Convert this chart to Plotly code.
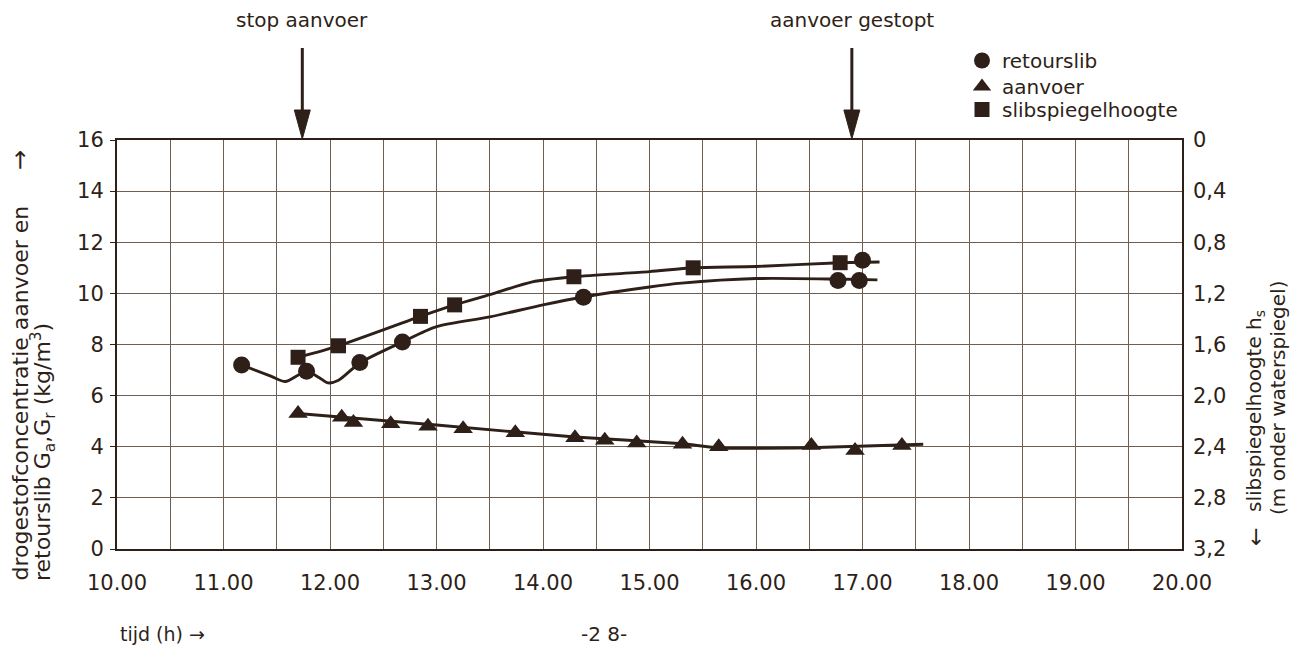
import plotly.graph_objects as go

# ---- measured series -------------------------------------------------------
# retourslib: dry-matter concentration of return sludge (kg/m3)
retour_t = [11.17, 11.78, 12.28, 12.68, 14.38, 16.77, 16.97, 17.00]
retour_g = [7.2, 6.95, 7.3, 8.1, 9.85, 10.5, 10.5, 11.3]

# aanvoer: dry-matter concentration of the feed (kg/m3)
aanvoer_t = [11.70, 12.11, 12.22, 12.57, 12.92, 13.25, 13.74, 14.30,
             14.58, 14.88, 15.31, 15.65, 16.52, 16.93, 17.37]
aanvoer_g = [5.3, 5.15, 4.95, 4.9, 4.8, 4.7, 4.55, 4.35,
             4.25, 4.15, 4.1, 4.0, 4.05, 3.85, 4.05]

# slibspiegelhoogte: sludge blanket depth below water level (m)
slib_t = [11.70, 12.08, 12.85, 13.17, 14.29, 15.41, 16.79]
slib_hs = [1.70, 1.61, 1.38, 1.29, 1.07, 1.00, 0.96]

# ---- hand-fitted trend curves ---------------------------------------------
retour_curve_t = [11.17, 11.45, 11.58, 11.78, 11.90, 11.98, 12.08, 12.28,
                  12.68, 13.0, 13.5, 14.0, 14.38, 15.0, 15.3, 16.0, 16.76, 17.14]
retour_curve_g = [7.2, 6.75, 6.55, 6.95, 6.7, 6.5, 6.6, 7.28,
                  8.1, 8.7, 9.08, 9.55, 9.86, 10.25, 10.4, 10.58, 10.56, 10.53]

slib_curve_t = [11.70, 12.08, 12.85, 13.17, 13.5, 13.9, 14.29, 15.0,
                15.41, 16.0, 16.79, 17.16]
slib_curve_hs = [1.70, 1.61, 1.38, 1.29, 1.21, 1.11, 1.07, 1.03,
                 1.00, 0.99, 0.96, 0.955]

aanvoer_curve_t = [11.70, 13.0, 14.3, 15.31, 15.65, 16.5, 17.57]
aanvoer_curve_g = [5.3, 4.85, 4.38, 4.12, 3.95, 3.96, 4.1]

# ---- axis labelling --------------------------------------------------------
hour_ticks = list(range(10, 21))
hour_labels = [f"{h}.00" for h in hour_ticks]
conc_ticks = list(range(0, 17, 2))
depth_ticks = [0, 0.4, 0.8, 1.2, 1.6, 2.0, 2.4, 2.8, 3.2]
depth_labels = ["0", "0,4", "0,8", "1,2", "1,6", "2,0", "2,4", "2,8", "3,2"]

# events marked with an arrow above the chart
event_t = [11.74, 16.90]
event_text = ["stop aanvoer", "aanvoer gestopt"]

INK = "#2e1f18"
GRID = "#6f5f50"
FONT = "DejaVu Sans"

W, H = 1307, 646
ML, MR, MT, MB = 117, 125, 140, 97
PLOT_H = H - MT - MB


def py(p):
    """Pixel row from the top of the page -> paper y."""
    return (H - MB - p) / PLOT_H


def px(p):
    """Pixel column from the left of the page -> paper x."""
    return (p - ML) / (W - ML - MR)


fig = go.Figure()

line_style = dict(color=INK, width=2.9, shape="spline", smoothing=0.7)
fig.add_trace(go.Scatter(x=retour_curve_t, y=retour_curve_g, mode="lines",
                         line=line_style, showlegend=False, hoverinfo="skip"))
fig.add_trace(go.Scatter(x=slib_curve_t, y=slib_curve_hs, mode="lines",
                         line=line_style, yaxis="y2", showlegend=False,
                         hoverinfo="skip"))
fig.add_trace(go.Scatter(x=aanvoer_curve_t, y=aanvoer_curve_g, mode="lines",
                         line=dict(color=INK, width=2.9, shape="spline",
                                   smoothing=0.4),
                         showlegend=False, hoverinfo="skip"))

# each series gets its own one-item legend so the rows can sit close together
fig.add_trace(go.Scatter(x=retour_t, y=retour_g, mode="markers",
                         name="retourslib", legend="legend",
                         marker=dict(symbol="circle", size=17, color=INK)))
fig.add_trace(go.Scatter(x=aanvoer_t, y=aanvoer_g, mode="markers",
                         name="aanvoer", legend="legend2",
                         marker=dict(symbol="triangle-up", size=17, color=INK)))
fig.add_trace(go.Scatter(x=slib_t, y=slib_hs, mode="markers",
                         name="slibspiegelhoogte", yaxis="y2",
                         legend="legend3",
                         marker=dict(symbol="square", size=15, color=INK)))

annotations = []
shapes = []
for t, txt in zip(event_t, event_text):
    annotations.append(dict(x=t, y=py(20), xref="x", yref="paper",
                            text=txt, showarrow=False,
                            font=dict(size=20, color=INK, family=FONT),
                            xanchor="center", yanchor="middle"))
    shapes.append(dict(type="line", xref="x", yref="paper",
                       x0=t, x1=t, y0=py(48), y1=py(114),
                       line=dict(color=INK, width=3)))
    dx = 0.075
    shapes.append(dict(type="path", xref="x", yref="paper",
                       path=f"M {t - dx},{py(110)} L {t + dx},{py(110)} "
                            f"L {t},{py(139)} Z",
                       fillcolor=INK, line=dict(color=INK, width=1)))

title_font = dict(size=22, color=INK, family=FONT)
side_font = dict(size=20, color=INK, family=FONT)
annotations += [
    dict(x=px(20), y=py(583), xref="paper", yref="paper", textangle=-90,
         text="drogestofconcentratie aanvoer en", showarrow=False,
         xanchor="center", yanchor="bottom", font=title_font),
    dict(x=px(20), y=py(160), xref="paper", yref="paper", textangle=-90,
         text="→", showarrow=False, xanchor="center", yanchor="middle",
         font=dict(size=24, color=INK, family=FONT)),
    dict(x=px(43), y=py(583), xref="paper", yref="paper", textangle=-90,
         text="retourslib G<sub>a</sub>,G<sub>r</sub> (kg/m<sup>3</sup>)",
         showarrow=False, xanchor="center", yanchor="bottom",
         font=title_font),
    dict(x=px(1255), y=py(514), xref="paper", yref="paper", textangle=-90,
         text="slibspiegelhoogte h<sub>s</sub>", showarrow=False,
         xanchor="center", yanchor="bottom", font=side_font),
    dict(x=px(1278), y=py(517), xref="paper", yref="paper", textangle=-90,
         text="(m onder waterspiegel)", showarrow=False,
         xanchor="center", yanchor="bottom", font=side_font),
    dict(x=px(1255), y=py(537), xref="paper", yref="paper", textangle=-90,
         text="←", showarrow=False, xanchor="center", yanchor="middle",
         font=dict(size=22, color=INK, family=FONT)),
    dict(x=px(118), y=py(634), xref="paper", yref="paper",
         text="tijd (h) →", showarrow=False, xanchor="left",
         yanchor="middle", font=dict(size=19, color=INK, family=FONT)),
    dict(x=px(604), y=py(634), xref="paper", yref="paper",
         text="-2 8-", showarrow=False, xanchor="center",
         yanchor="middle", font=dict(size=20, color=INK, family=FONT)),
]

tick_font = dict(size=21, color=INK, family=FONT)
legend_font = dict(size=20, color=INK, family=FONT)


def legend_at(top):
    return dict(x=px(962), y=py(top), xanchor="left", yanchor="top",
                font=legend_font, bgcolor="rgba(0,0,0,0)")


fig.update_layout(
    width=W, height=H, autosize=False,
    margin=dict(l=ML, r=MR, t=MT, b=MB, pad=0),
    paper_bgcolor="white", plot_bgcolor="white",
    font=dict(family=FONT, color=INK),
    xaxis=dict(range=[10, 20], tickvals=hour_ticks, ticktext=hour_labels,
               showgrid=True, gridcolor=GRID, gridwidth=1.1,
               minor=dict(dtick=0.5, showgrid=True, gridcolor=GRID,
                          gridwidth=1.1),
               showline=True, linecolor=INK, linewidth=2, mirror=True,
               zeroline=False, tickfont=tick_font, ticklabelstandoff=14),
    yaxis=dict(range=[0, 16], tickvals=conc_ticks, showgrid=True,
               gridcolor=GRID, gridwidth=1.1, showline=True, linecolor=INK,
               linewidth=2, mirror=True, zeroline=False, ticks="outside",
               ticklen=5, tickcolor=INK, tickfont=tick_font,
               ticklabelstandoff=2),
    yaxis2=dict(range=[3.2, 0], overlaying="y", side="right",
                tickvals=depth_ticks, ticktext=depth_labels, showgrid=False,
                showline=False, zeroline=False, tickfont=tick_font,
                ticklabelstandoff=10),
    legend=legend_at(41),
    legend2=legend_at(67),
    legend3=legend_at(90),
    annotations=annotations,
    shapes=shapes,
)

fig.write_html("out.html")
